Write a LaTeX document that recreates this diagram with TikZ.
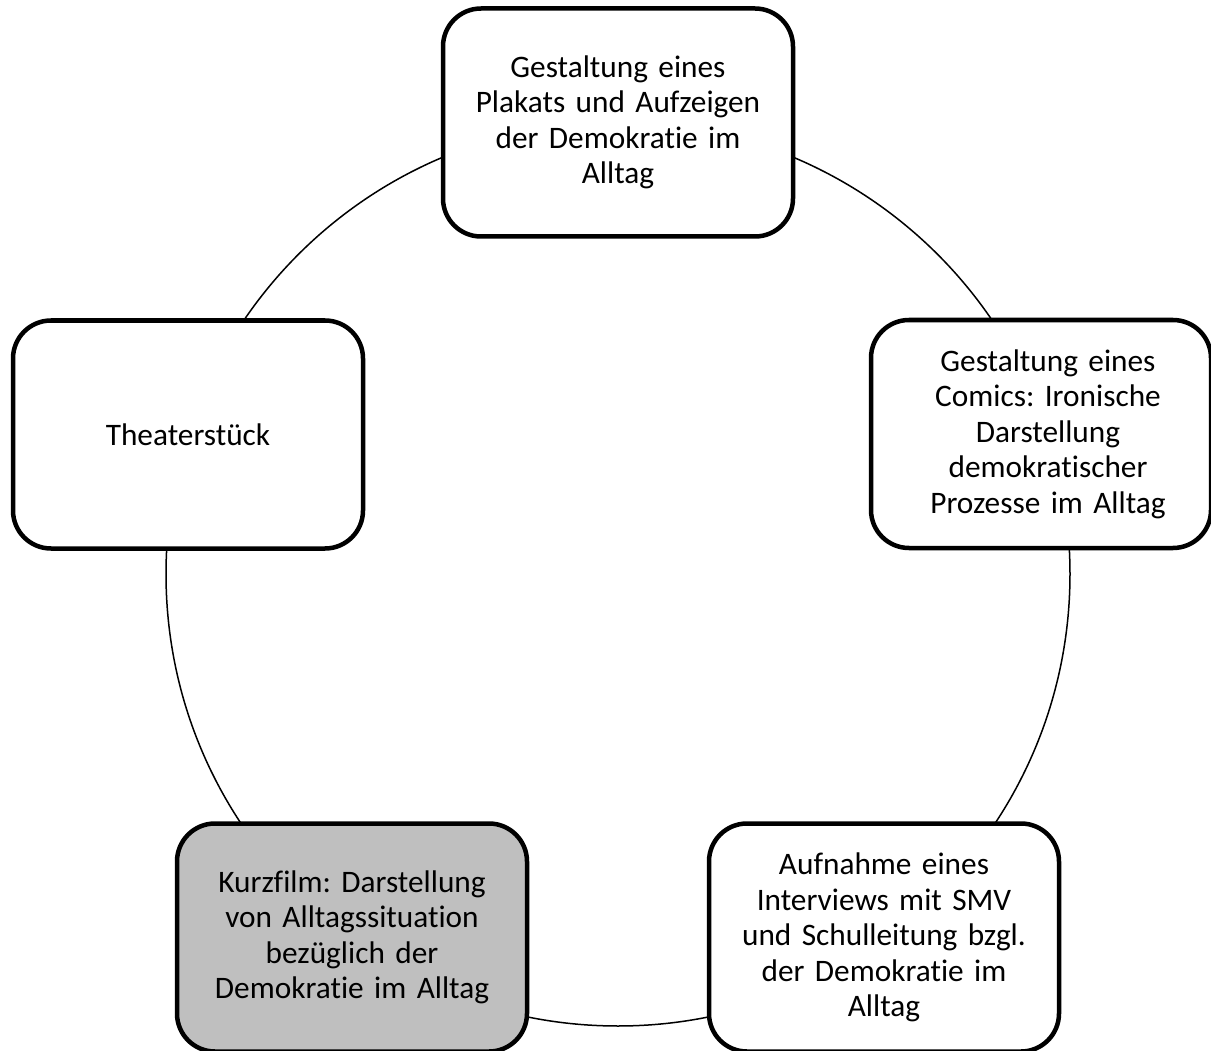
\documentclass[tikz,border=0pt]{standalone}
\usepackage{fontspec}
\setmainfont{Carlito}[Ligatures={NoCommon}]
\newcommand\rsh{\hspace*{14pt}}
\begin{document}
\begin{tikzpicture}[x=1pt,y=-1pt,
  box/.style={draw=black, line width=4.5pt, rounded corners=38pt, fill=white,
    minimum width=350pt, minimum height=228pt, align=center, text width=340pt,
    inner sep=0pt, font=\fontsize{31.3}{35.5}\selectfont\frenchspacing},
  ring/.style={draw=black, line width=1.5pt}]
\useasboundingbox (0,0) rectangle (1211,1051);
\coordinate (c) at (618,574);
\draw[ring] (c) circle[radius=452pt];
\node[box] (top) at (618,122.5) {Gestaltung eines\\Plakats und Aufzeigen\\der Demokratie im\\Alltag};
\node[box, minimum width=336pt] (right) at (1041,434) {\rsh Gestaltung eines\\\rsh Comics: Ironische\\\rsh Darstellung\\\rsh demokratischer\\\rsh Prozesse im Alltag};
\node[box] (bright) at (884,937.5) {Aufnahme eines\\Interviews mit SMV\\und Schulleitung bzgl.\\der Demokratie im\\Alltag};
\node[box, fill={rgb,255:red,191;green,191;blue,191}] (bleft) at (352,937.5) {Kurzfilm: Darstellung\\von Alltagssituation\\bezüglich der\\Demokratie im Alltag};
\node[box] (left) at (188,434.5) {Theaterstück};
\end{tikzpicture}
\end{document}
